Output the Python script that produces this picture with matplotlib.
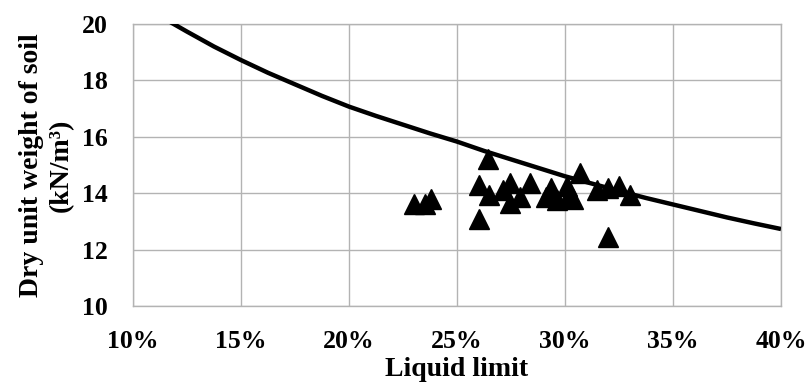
import numpy as np
import matplotlib.pyplot as plt
from matplotlib.ticker import FuncFormatter

# measured samples: liquid limit (%) and dry unit weight (kN/m3)
liquid_limit = [23.0, 23.5, 23.8, 26.0, 26.0, 26.45, 26.5, 27.15, 27.45, 27.45,
                27.9, 28.4, 29.1, 29.35, 29.65, 30.1, 30.2, 30.35, 30.7, 31.5,
                32.0, 32.0, 32.5, 33.0]
dry_unit_weight = [13.6, 13.6, 13.8, 14.3, 13.1, 15.2, 13.95, 14.1, 14.35, 13.65,
                   13.85, 14.35, 13.85, 14.2, 13.75, 14.25, 13.95, 13.8, 14.7, 14.1,
                   14.2, 12.45, 14.25, 13.95]

# boundary curve
curve_ll = [11.7, 12.5, 13.75, 15.0, 16.25, 17.5, 18.75, 20.0, 21.25, 22.5,
            23.75, 25.0, 26.25, 27.5, 28.75, 30.0, 31.25, 32.5, 33.75, 35.0,
            36.25, 37.5, 38.75, 40.0]
curve_gamma = [20.08, 19.73, 19.2, 18.72, 18.27, 17.86, 17.45, 17.07, 16.74, 16.43,
               16.12, 15.83, 15.5, 15.2, 14.9, 14.6, 14.34, 14.08, 13.83, 13.6,
               13.37, 13.14, 12.93, 12.73]

plt.rcParams["font.family"] = ["Liberation Serif", "DejaVu Serif"]
plt.rcParams["font.weight"] = "bold"

fig = plt.figure(figsize=(8.08, 3.87), dpi=100)
ax = fig.add_axes([0.1646, 0.2093, 0.802, 0.7287])

grid_color = "#b3b3b3"
ax.plot(curve_ll, curve_gamma, color="black", lw=3.2, solid_capstyle="butt",
        solid_joinstyle="round", zorder=3)
ax.plot(liquid_limit, dry_unit_weight, linestyle="none", marker="^", ms=15,
        color="black", zorder=4)

ax.set_xlim(10, 40)
ax.set_ylim(10, 20)
ax.set_xticks(np.arange(10, 41, 5))
ax.set_yticks(np.arange(10, 21, 2))
ax.xaxis.set_major_formatter(FuncFormatter(lambda v, p: f"{v:.0f}%"))
ax.grid(True, color=grid_color, lw=1.0)
ax.set_axisbelow(True)
for s in ax.spines.values():
    s.set_color(grid_color)
    s.set_linewidth(1.0)

ax.tick_params(axis="both", length=0, labelsize=18.5)
ax.tick_params(axis="x", pad=17)
ax.tick_params(axis="y", pad=18)
for lab in ax.get_xticklabels() + ax.get_yticklabels():
    lab.set_fontweight("bold")

ax.set_xlabel("Liquid limit", fontsize=20, fontweight="bold", labelpad=3)
ax.set_ylabel("Dry unit weight of soil\n(kN/m³)", fontsize=20,
              fontweight="bold", labelpad=6, linespacing=1.25)

fig.savefig("out.png", dpi=100)
